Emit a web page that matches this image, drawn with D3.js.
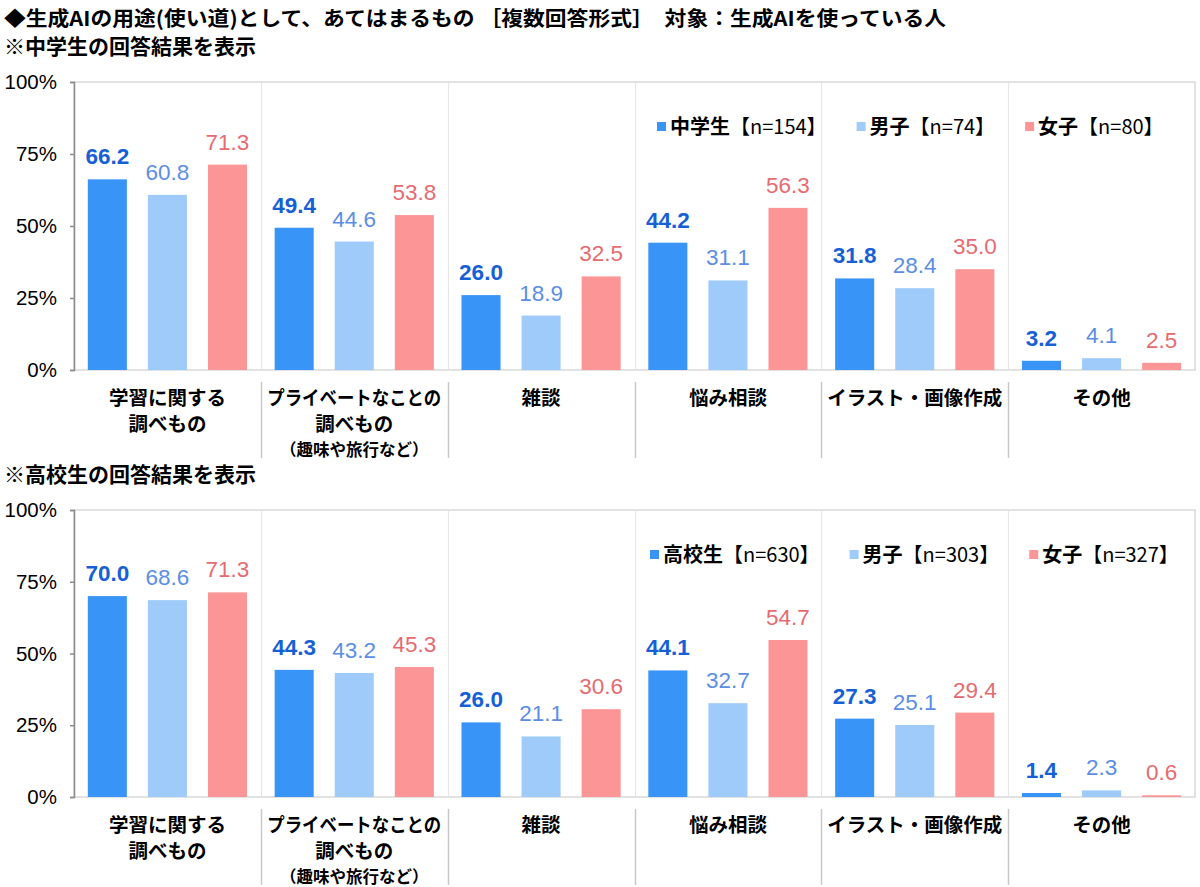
<!DOCTYPE html>
<html>
<head>
<meta charset="utf-8">
<script src="https://cdn.jsdelivr.net/npm/d3@7"></script>
<style>
  body { margin: 0; background: #fff; }
  svg { display: block; }
  text { font-family: "Noto Sans CJK JP", "Noto Sans", sans-serif; }
  .num { font-family: "Liberation Sans", Arial, sans-serif; }
</style>
</head>
<body>
<div id="chart"></div>
<script>
// categories (line 1, line 2, small note)
var categories = [
  ["学習に関する", "調べもの", ""],
  ["プライベートなことの", "調べもの", "（趣味や旅行など）"],
  ["雑談", "", ""],
  ["悩み相談", "", ""],
  ["イラスト・画像作成", "", ""],
  ["その他", "", ""]
];
var yTicks = [0, 25, 50, 75, 100];
var seriesKeys = ["all", "boys", "girls"];

// 中学生
var jhsTitle = "※中学生の回答結果を表示";
var jhsLegend = [["中学生", "【n=154】"], ["男子", "【n=74】"], ["女子", "【n=80】"]];
var jhsAll   = [66.2, 49.4, 26.0, 44.2, 31.8, 3.2];
var jhsBoys  = [60.8, 44.6, 18.9, 31.1, 28.4, 4.1];
var jhsGirls = [71.3, 53.8, 32.5, 56.3, 35.0, 2.5];

// 高校生
var hsTitle = "※高校生の回答結果を表示";
var hsLegend = [["高校生", "【n=630】"], ["男子", "【n=303】"], ["女子", "【n=327】"]];
var hsAll   = [70.0, 44.3, 26.0, 44.1, 27.3, 1.4];
var hsBoys  = [68.6, 43.2, 21.1, 32.7, 25.1, 2.3];
var hsGirls = [71.3, 45.3, 30.6, 54.7, 29.4, 0.6];

var barColors   = {all: "#3894f7", boys: "#9ecbfa", girls: "#fc9696"};
var labelColors = {all: "#1660d6", boys: "#5b8ee4", girls: "#e66b71"};

var width = 1200, height = 887;
var svg = d3.select("#chart").append("svg")
    .attr("width", width).attr("height", height);

svg.append("text")
    .attr("x", 4).attr("y", 26)
    .attr("font-size", 20).attr("font-weight", "bold")
    .attr("textLength", 942).attr("lengthAdjust", "spacingAndGlyphs")
    .text("◆生成AIの用途(使い道)として、あてはまるもの ［複数回答形式］　対象：生成AIを使っている人");

var plotLeft = 74, plotRight = 1195;

function drawPanel(cfg) {
    var g = svg.append("g");

    g.append("text")
	.attr("x", 4).attr("y", cfg.top - 28)
	.attr("font-size", 21).attr("font-weight", "bold")
	.text(cfg.title);

    var x = d3.scaleBand()
	.domain(d3.range(categories.length))
	.range([plotLeft, plotRight]);
    var xs = d3.scaleBand()
	.domain(seriesKeys)
	.range([0, x.bandwidth()])
	.paddingInner(0.35).paddingOuter(0.23);
    var y = d3.scaleLinear().domain([0, 100]).range([cfg.bottom, cfg.top]);

    // frame
    g.append("rect")
	.attr("x", plotLeft).attr("y", cfg.top)
	.attr("width", plotRight - plotLeft).attr("height", cfg.bottom - cfg.top)
	.attr("fill", "none").attr("stroke", "#d9d9d9").attr("stroke-width", 1.5);

    // category separators
    for (var i = 1; i < categories.length; i++) {
	var sx = Math.round(x(i)) + 0.5;
	g.append("line")
	    .attr("x1", sx).attr("x2", sx)
	    .attr("y1", cfg.top).attr("y2", cfg.bottom)
	    .attr("stroke", "#e6e6e6").attr("stroke-width", 1.2);
	g.append("line")
	    .attr("x1", sx).attr("x2", sx)
	    .attr("y1", cfg.bottom + 12).attr("y2", cfg.bottom + 88)
	    .attr("stroke", "#c8c8c8").attr("stroke-width", 1.5);
    }

    // y axis
    var yAxis = g.append("g")
	.attr("transform", "translate(" + plotLeft + ",0)")
	.call(d3.axisLeft(y).tickValues(yTicks).tickSize(4).tickPadding(13)
	      .tickFormat(function(d) { return d + "%"; }));
    yAxis.select(".domain").attr("stroke", "#8c8c8c").attr("stroke-width", 1.5);
    yAxis.selectAll(".tick line").attr("stroke", "#8c8c8c").attr("stroke-width", 1.5);
    yAxis.selectAll(".tick text")
	.attr("class", "num")
	.attr("font-size", 20.5).attr("fill", "#000")
	.attr("font-family", "Liberation Sans, Arial, sans-serif");

    var data = [];
    seriesKeys.forEach(function(k) {
	cfg.values[k].forEach(function(v, ci) {
	    data.push({key: k, cat: ci, value: v});
	});
    });

    g.selectAll("rect.bar").data(data).enter().append("rect")
	.attr("class", "bar")
	.attr("x", function(d) { return x(d.cat) + xs(d.key); })
	.attr("y", function(d) { return y(d.value); })
	.attr("width", xs.bandwidth())
	.attr("height", function(d) { return y(0) - y(d.value); })
	.attr("fill", function(d) { return barColors[d.key]; });

    g.selectAll("text.val").data(data).enter().append("text")
	.attr("class", "val num")
	.attr("x", function(d) { return x(d.cat) + xs(d.key) + xs.bandwidth() / 2; })
	.attr("y", function(d) { return y(d.value) - 15; })
	.attr("text-anchor", "middle")
	.attr("font-size", 22.5)
	.attr("font-weight", function(d) { return d.key == "all" ? "bold" : "normal"; })
	.attr("fill", function(d) { return labelColors[d.key]; })
	.text(function(d) { return d.value.toFixed(1); });

    // category labels
    categories.forEach(function(c, ci) {
	var cx = x(ci) + x.bandwidth() / 2;
	var lines = [[c[0], 35, 19.5], [c[1], 61, 19.5], [c[2], 86, 16.5]];
	lines.forEach(function(l) {
	    if (!l[0]) return;
	    var t = g.append("text")
		.attr("x", cx).attr("y", cfg.bottom + l[1])
		.attr("text-anchor", "middle")
		.attr("font-size", l[2]).attr("font-weight", "bold")
		.text(l[0]);
	    if (t.node().getComputedTextLength() > 176) {
		t.attr("textLength", 174).attr("lengthAdjust", "spacingAndGlyphs");
	    }
	});
    });

    // legend
    var lx = cfg.legendX;
    cfg.legend.forEach(function(item, li) {
	var k = seriesKeys[li];
	g.append("rect")
	    .attr("x", lx).attr("y", cfg.legendY - 5)
	    .attr("width", 9).attr("height", 9)
	    .attr("fill", barColors[k]);
	var t = g.append("text")
	    .attr("x", lx + 13).attr("y", cfg.legendY + 7)
	    .attr("font-size", 20).attr("font-weight", "bold");
	t.append("tspan").text(item[0]);
	t.append("tspan").attr("font-weight", "normal").text(item[1]);
	lx += 13 + t.node().getComputedTextLength() + 30;
    });
}

drawPanel({
    title: jhsTitle, top: 82, bottom: 370,
    legend: jhsLegend, legendX: 657, legendY: 127,
    values: {all: jhsAll, boys: jhsBoys, girls: jhsGirls}
});
drawPanel({
    title: hsTitle, top: 510, bottom: 797,
    legend: hsLegend, legendX: 650, legendY: 555,
    values: {all: hsAll, boys: hsBoys, girls: hsGirls}
});
</script>
</body>
</html>
